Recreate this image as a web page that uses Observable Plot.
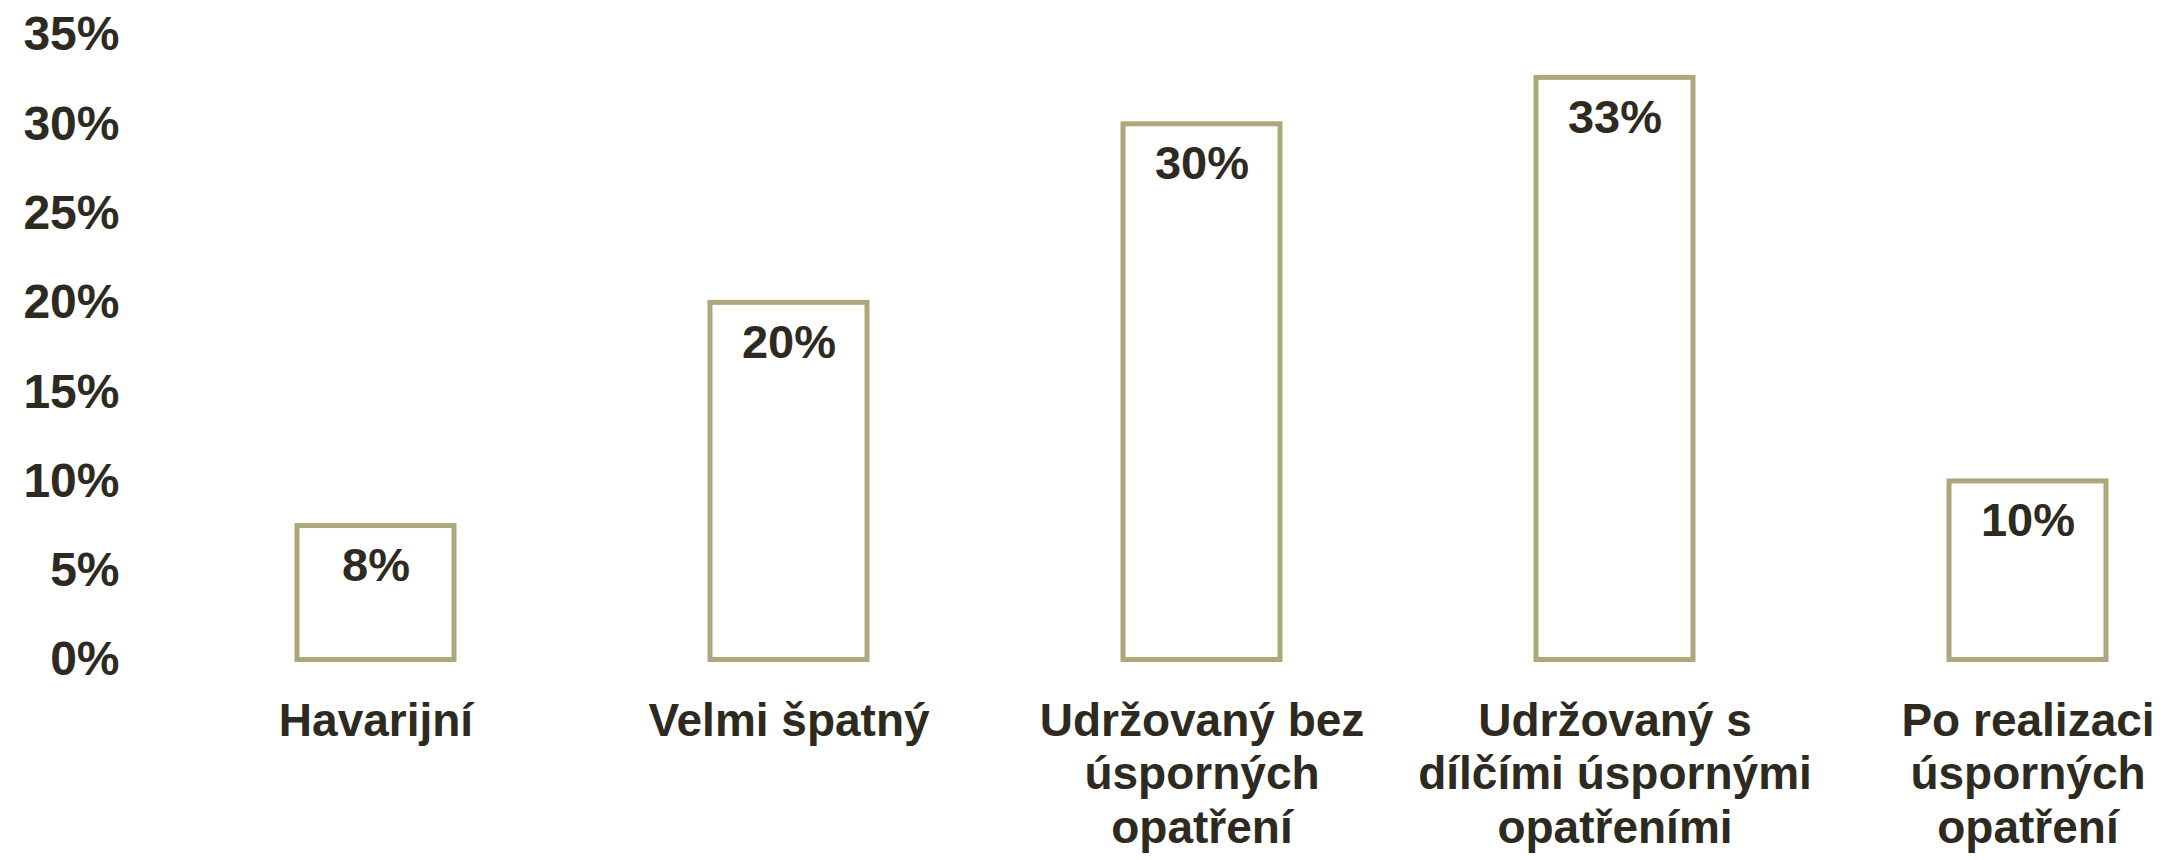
<!DOCTYPE html>
<html>
<head>
<meta charset="utf-8">
<script src="https://cdn.jsdelivr.net/npm/d3@7"></script>
<script src="https://cdn.jsdelivr.net/npm/@observablehq/plot@0.6"></script>
<style>
  html, body { margin: 0; padding: 0; background: #ffffff; }
  #chart svg { display: block; }
</style>
</head>
<body>
<div id="chart"></div>
<script>
const categories = [
  "Havarijní",
  "Velmi špatný",
  "Udržovaný bez\núsporných\nopatření",
  "Udržovaný s\ndílčími úspornými\nopatřeními",
  "Po realizaci\núsporných\nopatření"
];
const values = [7.5, 20, 30, 32.6, 10];
const valueLabels = ["8%", "20%", "30%", "33%", "10%"];
const yTicks = [0, 5, 10, 15, 20, 25, 30, 35];

const data = categories.map((c, i) => ({cat: c, value: values[i], label: valueLabels[i]}));

const textColor = "#2E2A1F";
const barColor = "#ADA77D";
const font = "'Liberation Sans', Arial, sans-serif";

const chart = Plot.plot({
  width: 2164,
  height: 860,
  marginLeft: 130,
  marginRight: 0,
  marginTop: 0,
  marginBottom: 0,
  style: {fontFamily: font, background: "white", color: textColor},
  x: {domain: categories, range: [39, 2364], padding: 0.62, axis: null},
  y: {domain: [0, 35], range: [659.5, 34.5]},
  marks: [
    Plot.axisY({
      ticks: yTicks,
      tickSize: 0,
      tickPadding: 11,
      tickFormat: d => d + "%",
      fontSize: 48,
      fontWeight: "bold",
      fill: textColor,
      label: null
    }),
    Plot.barY(data, {
      x: "cat",
      y: "value",
      fill: "white",
      stroke: barColor,
      strokeWidth: 5
    }),
    Plot.text(data, {
      x: "cat",
      y: "value",
      text: "label",
      dy: 40,
      fontSize: 47,
      fontWeight: "bold",
      fill: textColor
    }),
    Plot.text(data, {
      x: "cat",
      y: () => 0,
      text: "cat",
      lineAnchor: "top",
      lineHeight: 1.16,
      dy: 38,
      fontSize: 46,
      fontWeight: "bold",
      fill: textColor
    })
  ]
});

document.getElementById("chart").appendChild(chart);
</script>
</body>
</html>
